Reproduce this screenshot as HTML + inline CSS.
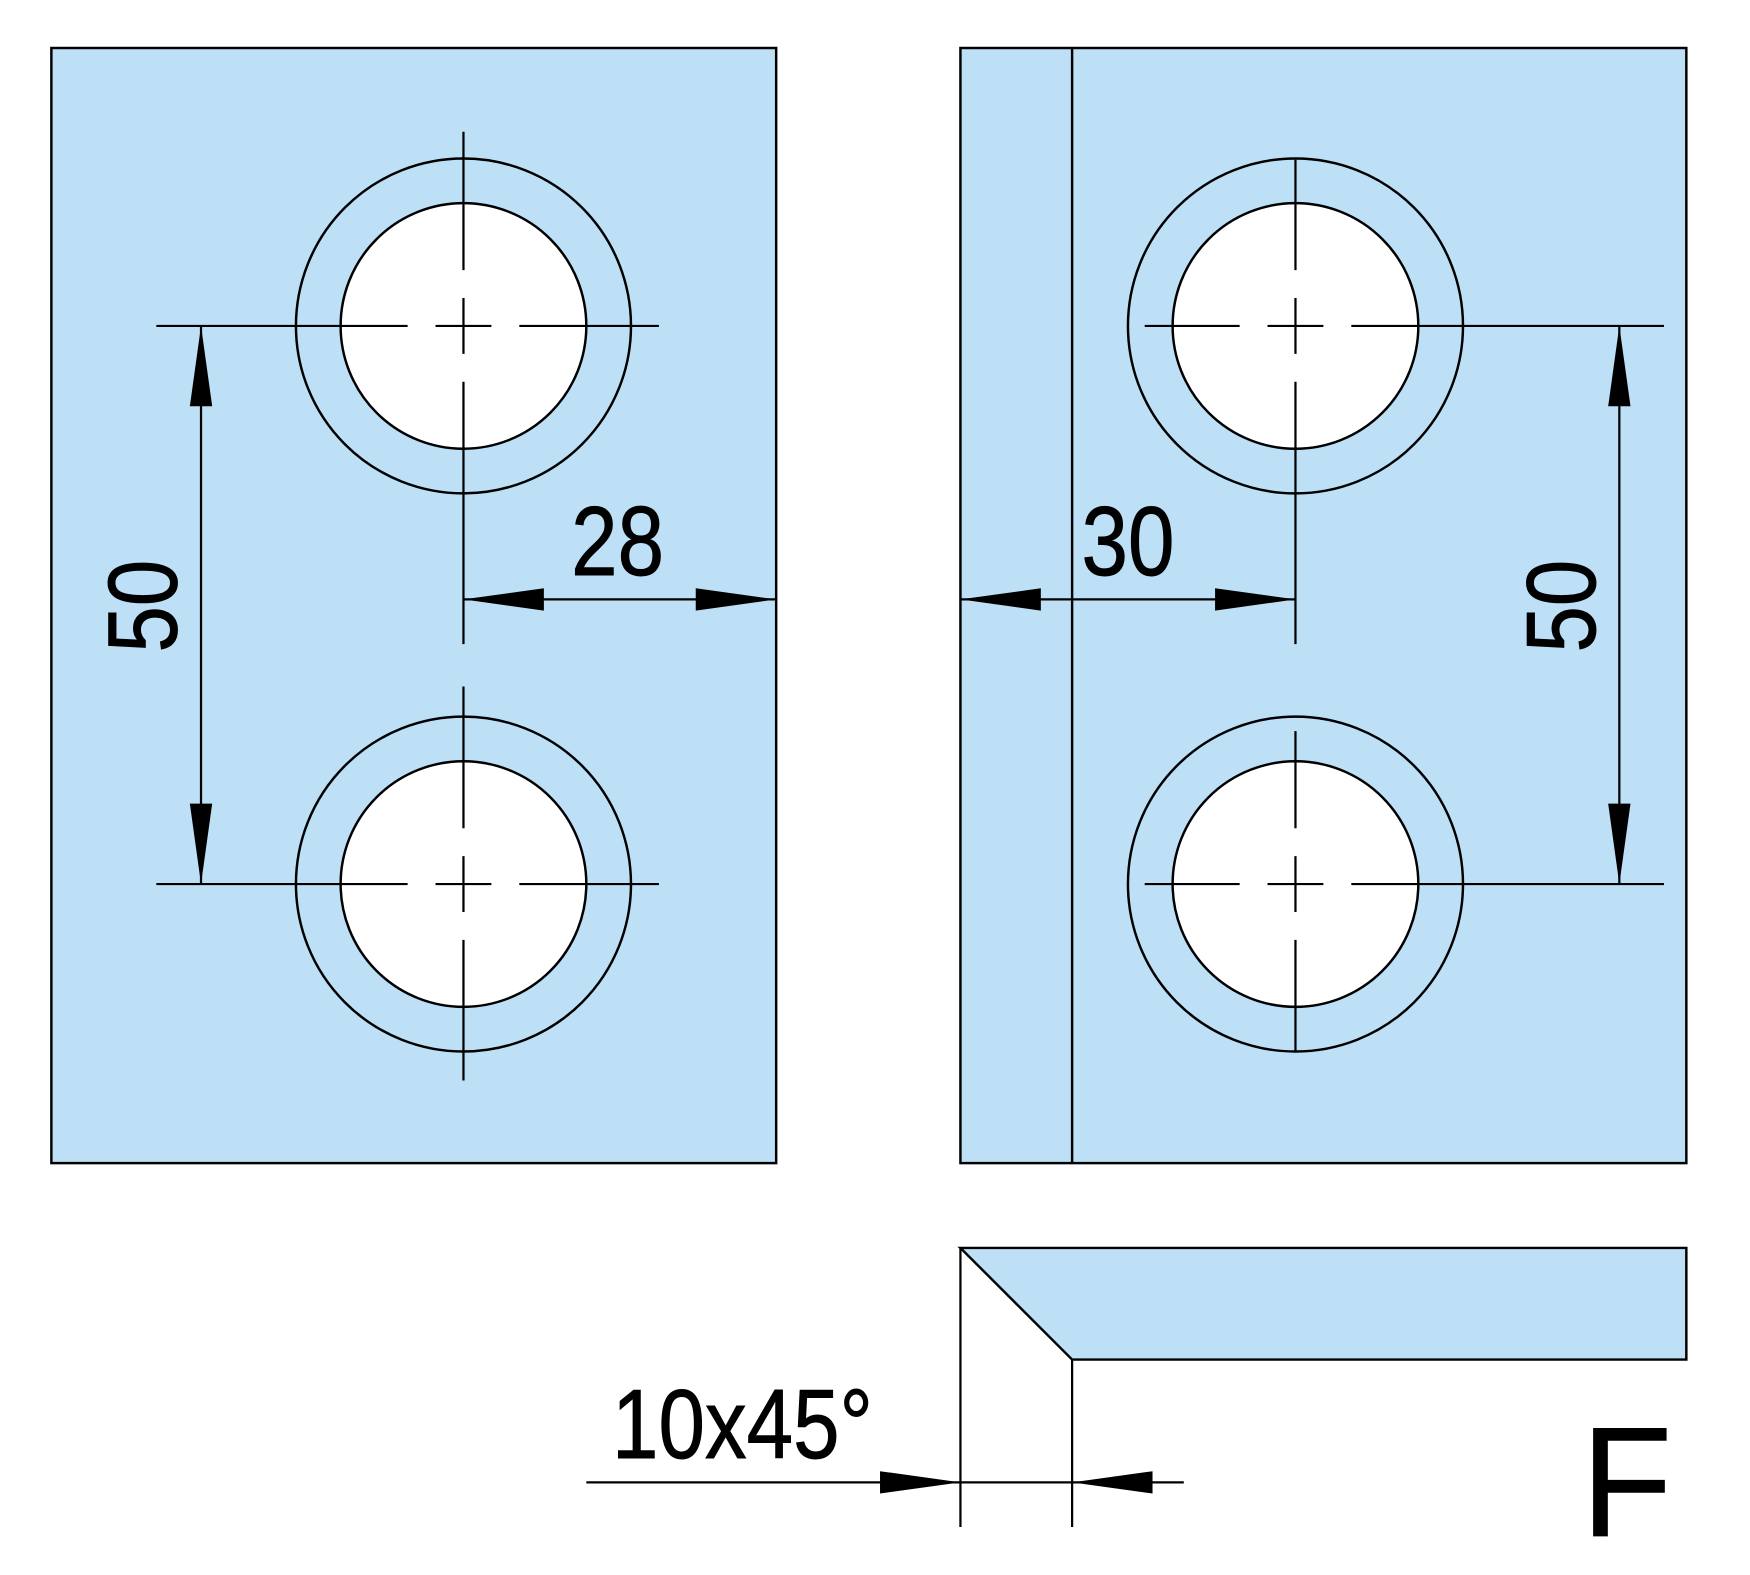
<!DOCTYPE html>
<html><head><meta charset="utf-8"><style>
html,body{margin:0;padding:0;background:#fff;}
svg{display:block;}
text{font-family:"Liberation Sans",sans-serif;fill:#000;stroke:#000;stroke-width:0.8;}
</style></head><body>
<svg width="1750" height="1575" viewBox="0 0 1567 1411" preserveAspectRatio="none" xmlns="http://www.w3.org/2000/svg">
<g stroke="#000" stroke-width="2.2" fill="#bde0f6">
<rect x="46" y="43" width="649" height="999"/>
<rect x="860" y="43" width="650" height="999"/>
<polygon points="860,1118 1510,1118 1510,1218 960,1218"/>
</g>
<line x1="960" y1="43" x2="960" y2="1042" stroke="#000" stroke-width="2.2"/>
<g stroke="#000" stroke-width="2.2">
<circle cx="415" cy="292" r="150" fill="#bde0f6"/><circle cx="415" cy="292" r="110" fill="#fff"/>
<circle cx="415" cy="792" r="150" fill="#bde0f6"/><circle cx="415" cy="792" r="110" fill="#fff"/>
<circle cx="1160" cy="292" r="150" fill="#bde0f6"/><circle cx="1160" cy="292" r="110" fill="#fff"/>
<circle cx="1160" cy="792" r="150" fill="#bde0f6"/><circle cx="1160" cy="792" r="110" fill="#fff"/>
</g>
<g stroke="#000" stroke-width="2" fill="none">
<!-- centerlines: solid with two gaps around center dash -->
<path d="M140 292H365M390 292H440M465 292H590"/>
<path d="M140 792H365M390 792H440M465 792H590"/>
<path d="M1025 292H1110M1135 292H1185M1210 292H1490"/>
<path d="M1025 792H1110M1135 792H1185M1210 792H1490"/>
<path d="M415 118V242M415 267V317M415 342V577"/>
<path d="M415 615V742M415 767V817M415 842V968"/>
<path d="M1160 143V242M1160 267V317M1160 342V577"/>
<path d="M1160 655V742M1160 767V817M1160 842V942"/>
<line x1="180" y1="292" x2="180" y2="792"/>
<line x1="1450" y1="292" x2="1450" y2="792"/>
<line x1="415" y1="537" x2="695" y2="537"/>
<line x1="860" y1="537" x2="1160" y2="537"/>
<line x1="525" y1="1328" x2="1060" y2="1328"/>
<line x1="860" y1="1118" x2="860" y2="1368"/>
<line x1="960" y1="1218" x2="960" y2="1368"/>
</g>
<g fill="#000">
<polygon points="180,292 170,364 190,364"/>
<polygon points="180,792 170,720 190,720"/>
<polygon points="1450,292 1440,364 1460,364"/>
<polygon points="1450,792 1440,720 1460,720"/>
<polygon points="415,537 487,527 487,547"/>
<polygon points="695,537 623,527 623,547"/>
<polygon points="860,537 932,527 932,547"/>
<polygon points="1160,537 1088,527 1088,547"/>
<polygon points="860,1328 788,1318 788,1338"/>
<polygon points="960,1328 1032,1318 1032,1338"/>
</g>
<text x="0" y="0" font-size="88" text-anchor="middle" transform="translate(158,543) rotate(-90) scale(0.85,1)">50</text>
<text x="0" y="0" font-size="88" text-anchor="middle" transform="translate(1428,543) rotate(-90) scale(0.85,1)">50</text>
<text x="0" y="0" font-size="88" text-anchor="middle" transform="translate(553,515) scale(0.85,1)">28</text>
<text x="0" y="0" font-size="88" text-anchor="middle" transform="translate(1010,515) scale(0.85,1)">30</text>
<text x="0" y="0" font-size="88" text-anchor="start" transform="translate(548,1306) scale(0.85,1)">10x45°</text>
<text x="0" y="0" font-size="140" text-anchor="start" transform="translate(1416,1376) scale(0.95,1)">F</text>
</svg>
</body></html>
